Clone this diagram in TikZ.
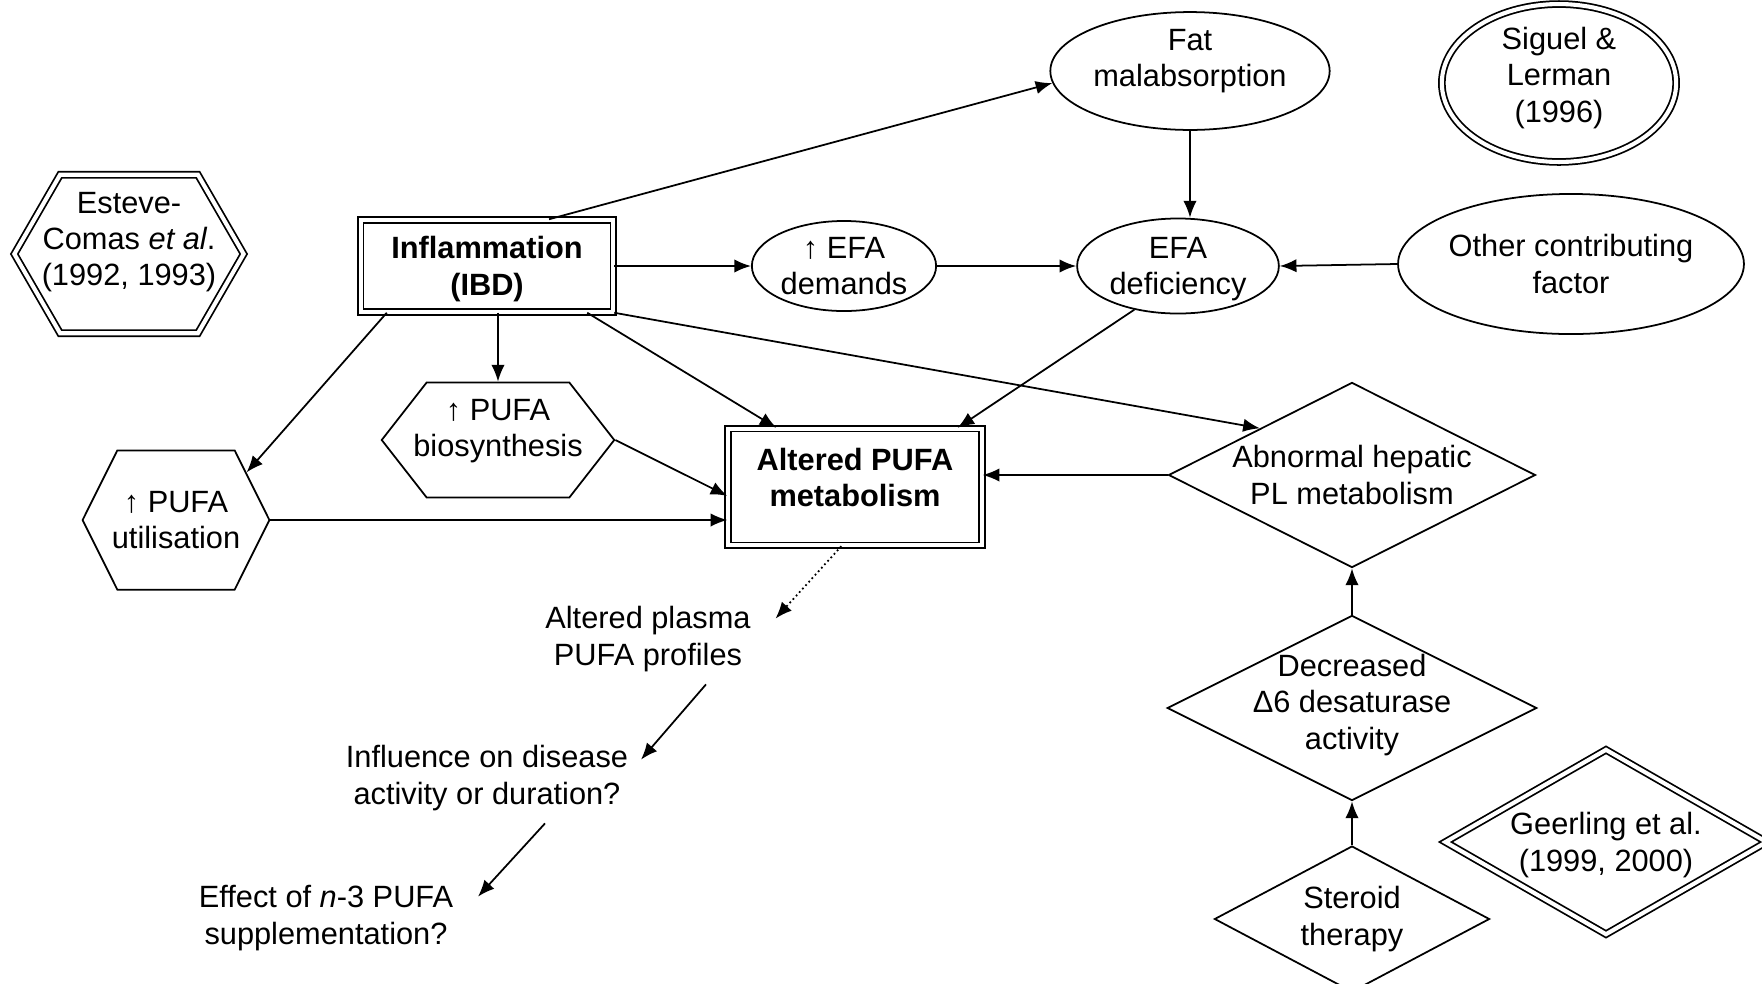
\documentclass[tikz,border=0pt]{standalone}
\usepackage{fontspec}
\setmainfont{Liberation Sans}
\usetikzlibrary{positioning,calc,arrows.meta,shapes.geometric,shapes.symbols}

\begin{document}
\begin{tikzpicture}[x=0.012cm,y=-0.012cm,line width=0.6pt,
    every node/.style={font=\fontsize{10.5}{12.4}\selectfont,align=center,inner sep=0pt},
    bold/.style={font=\fontsize{10.5}{12.4}\selectfont\bfseries},
    box/.style={rectangle,draw,double,double distance=1.4pt},
    oval/.style={ellipse,draw},
    hexa/.style={signal,signal to=east and west,draw},
    rhomb/.style={diamond,draw,aspect=2},
    txt/.style={rectangle},
    arr/.style={-{Latex[length=2mm,width=1.6mm]}}]

\useasboundingbox (0,0) rectangle (1762,984);

% sources in the literature
\node[hexa,double,double distance=1.4pt,signal pointer angle=120,inner xsep=-0.26cm,text depth=0.36cm,minimum width=2.75cm,minimum height=1.9cm] (esteve) at (129,254) {Esteve-\\Comas \textit{et al}.\\(1992, 1993)};
\node[oval,double,double distance=1.4pt,text depth=0.2cm,minimum width=2.81cm,minimum height=1.66cm] (siguel) at (1559,83) {Siguel \&\\Lerman\\(1996)};
\node[rhomb,double,double distance=1.4pt,text depth=-0.066cm,minimum width=3.86cm,minimum height=2.22cm] (geer) at (1606,842) {Geerling et al.\\(1999, 2000)};

% top row
\node[box,bold,text depth=-0.06cm,minimum width=3.03cm,minimum height=1.1cm] (infl) at (487,266) {Inflammation\\(IBD)};
\node[oval,text depth=0.31cm,minimum width=3.35cm,minimum height=1.38cm] (fat) at (1190,71) {Fat\\malabsorption};
\node[oval,minimum width=2.21cm,minimum height=1.08cm] (efadem) at (844,266) {↑ EFA\\demands};
\node[oval,text depth=0pt,minimum width=2.42cm,minimum height=1.14cm] (efadef) at (1178,266) {EFA\\deficiency};
\node[oval,minimum width=3.62cm,minimum height=1.68cm] (other) at (1571,264) {Other contributing\\factor};

% middle row
\node[hexa,signal pointer angle=104,inner xsep=-0.16cm,text depth=0.29cm,minimum width=2.77cm,minimum height=1.38cm] (bio) at (498,440) {↑ PUFA\\biosynthesis};
\node[hexa,signal pointer angle=127,inner xsep=-0.07cm,minimum width=2.24cm,minimum height=1.67cm] (util) at (176,520) {↑ PUFA\\utilisation};
\node[box,bold,text depth=0.23cm,minimum width=3.04cm,minimum height=1.40cm] (alt) at (855,487) {Altered PUFA\\metabolism};
\node[rhomb,minimum width=4.40cm,minimum height=2.22cm] (abn) at (1352,475) {Abnormal hepatic\\PL metabolism};
\node[rhomb,inner sep=-0.1cm,text depth=0.15cm,minimum width=4.43cm,minimum height=2.22cm] (dec) at (1352,708) {Decreased\\Δ6 desaturase\\activity};
\node[rhomb,minimum width=3.30cm,minimum height=1.75cm] (ster) at (1352,919) {Steroid\\therapy};

% consequences
\node[txt] (plasma) at (648,639) {Altered plasma\\PUFA profiles};
\node[txt] (disease) at (487,778) {Influence on disease\\activity or duration?};
\node[txt] (effect) at (326,918) {Effect of \textit{n}-3 PUFA\\supplementation?};

% connectors
\draw[arr] (infl.37) -- (fat.185);
\draw[arr] (fat.south) -- (fat.south |- efadef.north);
\draw[arr] (infl.east) -- (efadem.west);
\draw[arr] (efadem.east) -- (efadef.west);
\draw[arr] (other.west) -- (efadef.east);
\draw[arr] (efadef.225) -- (alt.30);
\draw[arr] (infl.south east) -- (abn.north west);
\draw[arr] (infl.335) -- (alt.143);
\draw[arr] (bio.north |- infl.south) -- (bio.north);
\draw[arr] (infl.205) -- (util.34);
\draw[arr] (bio.east) -- (alt.184);
\draw[arr] (util.east) -- (util.east -| alt.west);
\draw[arr] (abn.west) -- (abn.west -| alt.east);
\draw[arr] (dec.north) -- (abn.south);
\draw[arr] (ster.north) -- (dec.south);
\draw[arr,densely dotted] (alt.257) -- ($(plasma.north east)+(24,13)$);
\draw[arr] ($(plasma.south)+(58,12)$) -- ($(disease.north east)+(12,15)$);
\draw[arr] ($(disease.south)+(58,12)$) -- ($(effect.north east)+(24,12)$);

\end{tikzpicture}
\end{document}
